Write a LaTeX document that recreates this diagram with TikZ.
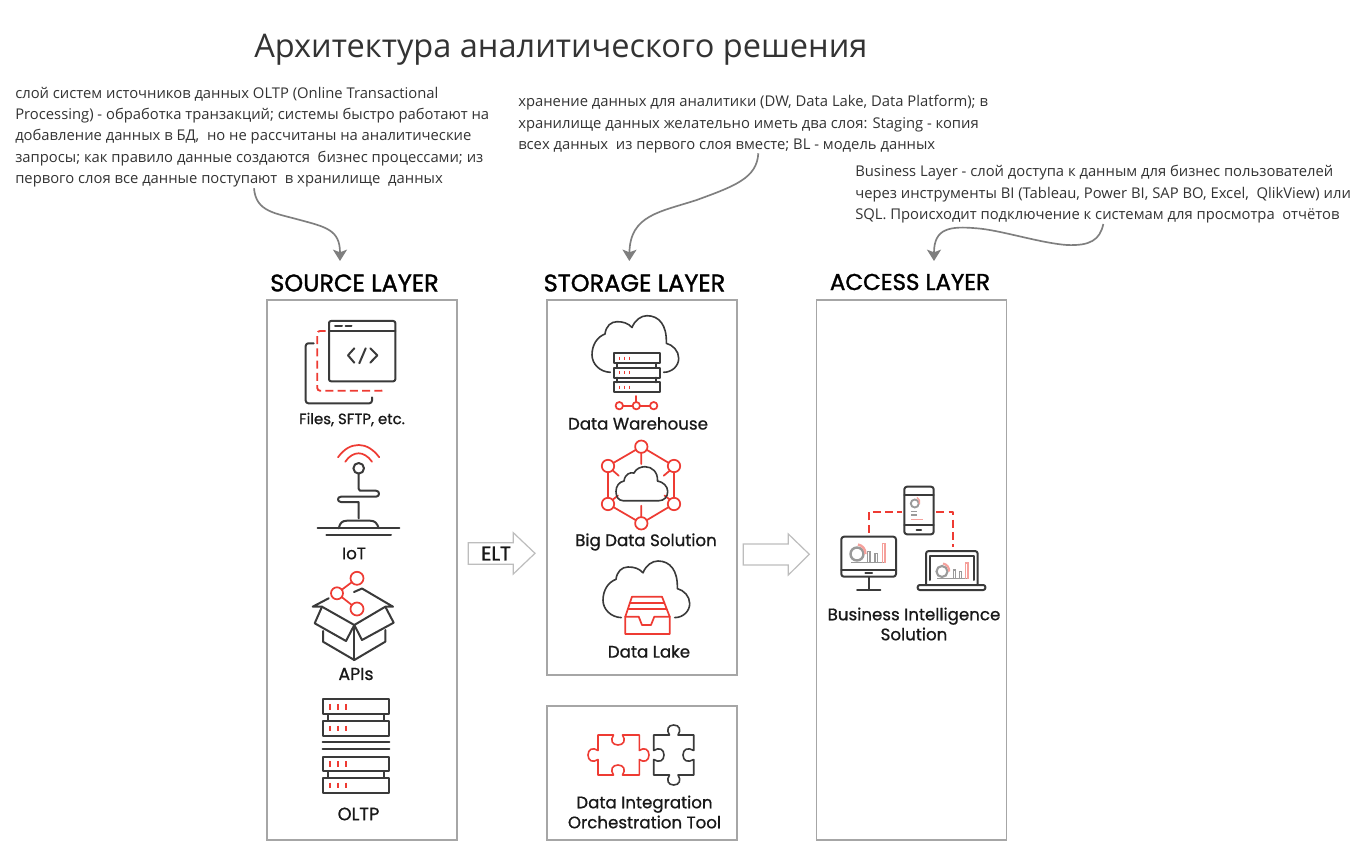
\documentclass[tikz,border=0pt]{standalone}
\usepackage{fontspec}
\setmainfont{Open Sans}
\newfontfamily\labf{Poppins}[FakeBold=0.8]
\newfontfamily\headf{Poppins}[FakeBold=1.4]
\usetikzlibrary{arrows.meta}
\definecolor{ink}{HTML}{3A3A3A}
\definecolor{redc}{HTML}{EE3B33}
\definecolor{boxc}{HTML}{A6A6A6}
\definecolor{arrc}{HTML}{7F7F7F}
\definecolor{blockc}{HTML}{BDBDBD}
\definecolor{txtc}{HTML}{333333}
\definecolor{pale}{HTML}{9A9A9A}
\definecolor{palered}{HTML}{F5A09B}
\tikzset{
  ic/.style={draw=ink,line width=1.5pt,line join=round,line cap=round},
  rd/.style={draw=redc,line width=1.3pt,line join=round,line cap=round},
  rdd/.style={rd,line width=1.4pt,line cap=butt,dash pattern=on 6pt off 3.2pt},
  tick/.style={draw=redc,line width=1.6pt,line cap=butt},
  layerbox/.style={draw=boxc,line width=0.9pt},
  note/.style={anchor=north west,inner sep=0pt,align=left,text=txtc,font=\fontsize{11.1}{16.1}\selectfont},
  hd/.style={inner sep=0pt,text=black,font=\headf\fontsize{18}{21}\selectfont},
  lb/.style={inner sep=0pt,text=black!90,align=center,font=\labf\fontsize{12.5}{15}\selectfont},
  curve/.style={draw=arrc,line width=1.25pt,-{Stealth[length=8.5pt,width=10.5pt,inset=2pt]}},
  block/.style={draw=blockc,line width=0.9pt,fill=white,line join=miter},
  pl/.style={draw=pale,line width=1pt},
  plr/.style={draw=palered,line width=1.1pt},
}
\newcommand{\srvrow}[5]{% x1 x2 y1 y2 tickx-list
  \draw[ic,fill=white] (#1,#3) rectangle (#2,#4);
  \foreach \tx in {#5}{\draw[tick] (\tx,#3+4.5) -- (\tx,#4-4.5);}
}
\newcommand{\cloudpath}{(610.3,372.3) .. controls (600,372) and (592,364) .. (592,355)
  .. controls (592,345) and (597,337) .. (605,334)
  .. controls (606,326) and (611,321.7) .. (617,321.7)
  .. controls (623,321.7) and (628,323) .. (632,327.5)
  .. controls (635,320) and (641,315.7) .. (647,315.7)
  .. controls (659,315.7) and (667,325) .. (666.3,343.3)
  .. controls (673,345) and (678.7,351) .. (678.7,358.3)
  .. controls (678.7,366) and (672,372.3) .. (663.7,372.3)}
\begin{document}
\begin{tikzpicture}[x=0.75pt,y=-0.75pt]
\useasboundingbox (0,0) rectangle (1364,852);
\fill[white] (0,0) rectangle (1364,852);

% title and notes
\node[anchor=west,inner sep=0pt,text=txtc,font=\fontsize{24.4}{30}\selectfont] (title) at (254,49.5) {Архитектура аналитического решения};
\node[note] (n1) at (15,86.5) {слой систем источников данных OLTP (Online Transactional\\Processing) - обработка транзакций; системы быстро работают на\\добавление данных в БД,\ \ но не рассчитаны на аналитические\\запросы; как правило данные создаются\ \ бизнес процессами; из\\первого слоя все данные поступают\ \ в хранилище\ \ данных};
\node[note] (n2) at (518,95) {хранение данных для аналитики (DW, Data Lake, Data Platform); в\\хранилище данных желательно иметь два слоя: Staging - копия\\всех данных\ \ из первого слоя вместе; BL - модель данных};
\node[note] (n3) at (855,165) {Business Layer - слой доступа к данным для бизнес пользователей\\через инструменты BI (Tableau, Power BI, SAP BO, Excel,\ \ QlikView) или\\SQL. Происходит подключение к системам для просмотра\ \ отчётов};

% boxes
\node[layerbox,minimum width=142.5pt,minimum height=405pt,inner sep=0pt] (src) at (362,570) {};
\node[layerbox,minimum width=142.5pt,minimum height=281.25pt,inner sep=0pt] (sto) at (642,487.5) {};
\node[layerbox,minimum width=142.5pt,minimum height=100.5pt,inner sep=0pt] (itg) at (642,773) {};
\node[layerbox,minimum width=142pt,minimum height=405pt,inner sep=0pt] (acc) at (911.5,570) {};

% headers
\node[hd] (h1) at (354.5,283) {SOURCE LAYER};
\node[hd] (h2) at (634.5,283) {STORAGE LAYER};
\node[hd,font=\headf\fontsize{17.2}{21}\selectfont] (h3) at (910,282) {ACCESS LAYER};

% curved arrows
\coordinate (a1s) at (254,188.3); \coordinate (a1e) at (340,261);
\coordinate (a2s) at (758.3,153.3); \coordinate (a2e) at (629.3,261);
\coordinate (a3s) at (1103.3,224); \coordinate (a3e) at (934,261);
\draw[curve] (a1s) .. controls (256,212) and (275,213) .. (300,220) .. controls (326,227) and (340,230) .. (a1e);
\draw[curve] (a2s) .. controls (757,178) and (735,186) .. (696.7,200) .. controls (660,212) and (630,215) .. (a2e);
\draw[curve] (a3s) .. controls (1100,240) and (1090,246) .. (1066.7,245) .. controls (1040,243) and (1000,230) .. (976.7,228.3) .. controls (950,226) and (934,228) .. (a3e);

% block arrows
\draw[block] (468.3,542.7) -- (513.3,542.7) -- (513.3,532.7) -- (535,553.3) -- (513.3,574) -- (513.3,564.3) -- (468.3,564.3) -- cycle;
\node[lb,font=\headf\fontsize{15}{18}\selectfont] (elt) at (496,553.5) {ELT};
\draw[block] (743.3,544) -- (788.3,544) -- (788.3,534) -- (809.3,554.3) -- (788.3,575) -- (788.3,565) -- (743.3,565) -- cycle;

% Files icon
\draw[ic,rounded corners=1.5pt] (329,321) rectangle (395.3,381.3);
\draw[ic] (329,331) -- (395.3,331);
\draw[ic] (335,325.7) -- (342,325.7) (345.5,325.7) -- (351.5,325.7);
\draw[ic] (354.3,348.3) -- (348,355.3) -- (354.3,362.7) (365.7,348.3) -- (359.3,363.3) (370.3,348.3) -- (377.3,355.3) -- (370.3,362.7);
\draw[rdd,rounded corners=2pt] (325.7,331) -- (317.3,331) -- (317.3,390.7) -- (384.3,390.7) -- (384.3,387.3);
\draw[ic,rounded corners=2pt] (313.7,343.3) -- (305.7,343.3) -- (305.7,403.3) -- (372,403.3) -- (372,397.3);
\node[lb,font=\labf\fontsize{11.2}{13}\selectfont] (lfiles) at (352,419.5) {Files, SFTP, etc.};

% IoT icon
\draw[rd] (338,457.3) .. controls (344,449) and (351,445) .. (358.7,445) .. controls (366,445) and (373,449) .. (379.3,457.3);
\draw[rd] (345.3,461.7) .. controls (349,456) and (354,453.3) .. (358.7,453.3) .. controls (363,453.3) and (368,456) .. (372,461.7);
\draw[ic] (358.7,468.3) circle (5.3);
\draw[ic] (358.7,473.7) -- (358.7,489) .. controls (358.7,490.4) and (359,490.7) .. (360,490.7) -- (376,490.7) .. controls (380,490.7) and (380,496.7) .. (376,496.7) -- (341,496.7) .. controls (337,496.7) and (337,502) .. (341,502) -- (358.7,502) -- (358.7,518.3);
\draw[ic] (338.7,528.3) .. controls (340,523) and (342,520.7) .. (347,520.7) -- (370,520.7) .. controls (375,520.7) and (377,523) .. (378.7,528.3);
\draw[ic] (317.7,528.3) -- (399.3,528.3) (326.3,535.3) -- (391,535.3);
\node[lb] (liot) at (354,553.5) {IoT};

% APIs icon
\draw[ic] (322,606.7) -- (314.7,623.3) -- (346,641) -- (354.3,625) -- (362,640) -- (393.7,622.7) -- (385.3,606.7);
\draw[ic] (322,606.7) -- (354.3,625) -- (385.3,606.7);
\draw[ic] (312.7,606.7) -- (328.7,598.3) (312.7,606.7) -- (322,606.7);
\draw[ic] (354,592) -- (362,588.5) -- (393,606.7) -- (385.3,606.7);
\draw[ic] (323,631) -- (323,641.7) -- (354.3,660) -- (385.3,641.7) -- (385.3,630);
\draw[ic] (354.3,625) -- (354.3,660);
\draw[rd] (357,578.3) circle (6.5) (337,593.3) circle (6) (357,609) circle (6.5);
\draw[rd] (351.8,582.2) -- (341.8,589.7) (341.8,597.1) -- (351.8,605);
\node[lb,font=\labf\fontsize{13}{15}\selectfont] (lapi) at (356,674) {APIs};

% OLTP icon
\draw[ic] (327.7,714) -- (327.7,721) (384.3,714) -- (384.3,721);
\draw[ic] (327.7,771) -- (327.7,778) (384.3,771) -- (384.3,778);
\srvrow{322.7}{389.3}{699.3}{714}{330.3,337.7,345.7}
\srvrow{322.7}{389.3}{721}{735.7}{330.3,337.7,345.7}
\draw[ic] (322.7,742.3) -- (389.3,742.3) (322.7,749.3) -- (389.3,749.3);
\srvrow{322.7}{389.3}{756.7}{771}{330.3,337.7,345.7}
\srvrow{322.7}{389.3}{778}{792.7}{330.3,337.7,345.7}
\node[lb,font=\labf\fontsize{13.4}{15}\selectfont] (loltp) at (358.5,814) {OLTP};

% Data Warehouse icon
\draw[ic,line width=1.2pt] \cloudpath;
\draw[ic] (617,363.3) -- (617,367.7) (656.3,363.3) -- (656.3,367.7) (617,377.7) -- (617,382.3) (656.3,377.7) -- (656.3,382.3);
\draw[ic] (613.7,353.3) rectangle (659.7,363.3) (613.7,367.7) rectangle (659.7,377.7) (613.7,382.3) rectangle (659.7,392.3);
\foreach \ty in {358.3,372.7,387.3}{\foreach \tx in {619.7,624.3,629.3}{\draw[tick,line width=1pt] (\tx,\ty-1.7) -- (\tx,\ty+1.7);}}
\draw[rd] (636.3,396) -- (636.3,402);
\draw[rd] (619.3,405.7) circle (3.7) (636.3,405.7) circle (3.7) (653.7,405.7) circle (3.7);
\draw[rd] (623,405.7) -- (632.6,405.7) (640,405.7) -- (650,405.7);
\node[lb] (ldw) at (638,423.5) {Data Warehouse};

% Big Data icon
\foreach \cx/\cy in {641.3/446.7,608/466,674/466,608/504,674/504,641.3/523.3}{\draw[rd] (\cx,\cy) circle (6.2);}
\draw[rd] (646.7,449.8) -- (668.7,462.9) (635.9,449.8) -- (613.4,462.9) (608,472.2) -- (608,497.8) (674,472.2) -- (674,497.8) (613.4,507.1) -- (635.9,520.2) (668.7,507.1) -- (646.7,520.2);
\draw[rd] (641.3,453) -- (641.3,464) (613,470.7) -- (618.7,475.7) (669.7,470.7) -- (663.7,475.7) (613,499.5) -- (618,495.5) (669.7,499.5) -- (664.5,495.5) (641.3,517) -- (641.3,505.7);
\draw[ic,line width=1.2pt] (623,500.7) .. controls (618,500.7) and (616,496) .. (616,491.5) .. controls (616,486) and (619,482) .. (624,481) .. controls (625,474) and (630,472) .. (634,473) .. controls (636,468.5) and (641,466.7) .. (645,466.7) .. controls (652,466.7) and (658,472) .. (657.5,481) .. controls (663,482) and (667.7,486) .. (667.7,491.5) .. controls (667.7,497) and (664,500.7) .. (659,500.7) -- cycle;
\node[lb] (lbd) at (646,542) {Big Data Solution};

% Data Lake icon
\begin{scope}[shift={(11,245.3)}]
\draw[ic,line width=1.2pt] \cloudpath;
\end{scope}
\draw[rd,fill=white] (632,596.7) -- (662,596.7) -- (669.7,616.7) -- (669.7,634) -- (625.3,634) -- (625.3,616.7) -- cycle;
\draw[rd] (629.7,602.7) -- (664.3,602.7) (628,609.3) -- (666.3,609.3);
\draw[rd] (625.3,616.7) -- (638.7,616.7) -- (642,625) -- (651,625) -- (654.3,616.7) -- (669.7,616.7);
\node[lb] (ldl) at (649,651.5) {Data Lake};

% Puzzle icon
\draw[rd,line width=1.2pt] (598,735) -- (613.5,735) .. controls (610,740) and (612,745) .. (618,745) .. controls (624,745) and (626,740) .. (622.5,735) -- (639.3,735) -- (639.3,750.5) .. controls (644,747) and (649,749) .. (649,755) .. controls (649,761) and (644,763) .. (639.3,759.5) -- (639.3,775) -- (622.5,775) .. controls (626,770) and (624,765) .. (618,765) .. controls (612,765) and (610,770) .. (613.5,775) -- (598,775) -- (598,759.5) .. controls (593,763) and (588,761) .. (588,755) .. controls (588,749) and (593,747) .. (598,750.5) -- cycle;
\draw[ic,line width=1.2pt] (653.7,735) -- (669.5,735) .. controls (666,730) and (668,725) .. (673.7,725) .. controls (679.5,725) and (681.5,730) .. (678,735) -- (693.7,735) -- (693.7,750.5) .. controls (688,747) and (683,749) .. (683,755) .. controls (683,761) and (688,763) .. (693.7,759.5) -- (693.7,775) -- (678,775) .. controls (681.5,780) and (679.5,785) .. (673.7,785) .. controls (668,785) and (666,780) .. (669.5,775) -- (653.7,775) -- (653.7,759.5) .. controls (659,763) and (664,761) .. (664,755) .. controls (664,749) and (659,747) .. (653.7,750.5) -- cycle;
\node[lb] (ldi) at (644.5,812) {Data Integration\\Orchestration Tool};

% BI icon
\draw[rdd] (869.3,532.7) -- (869.3,511.7) -- (902,511.7);
\draw[rdd] (936.3,511.7) -- (953,511.7) -- (953,547.3);
\draw[ic,rounded corners=2pt] (904.3,486.7) rectangle (933.7,534.3);
\draw[ic] (904.3,495) -- (933.7,495) (904.3,525) -- (933.7,525) (916.5,530.3) -- (921,530.3);
\draw[pl,line width=1.4pt] (914.8,503.5) circle (4);
\draw[plr] (917,497.5) arc (-60:20:5.5);
\draw[pl] (911.3,511.5) -- (917,511.5) (911.3,515) -- (917,515);
\draw[plr] (911.3,519.3) -- (922.7,519.3);
% monitor
\draw[ic,rounded corners=2pt] (841.3,536.7) rectangle (896,576.7);
\draw[ic] (841.3,570) -- (896,570) (865.3,573) -- (872,573) (868.7,577.3) -- (868.7,590) (857,590) -- (880.3,590);
\draw[pl,line width=1.8pt] (857,554) circle (6.5);
\draw[plr,line width=1.8pt] (858,544.5) arc (-80:5:9);
\draw[pl] (851,562.7) -- (886,562.7) (867.7,562.7) -- (867.7,551.7) -- (870,551.7) -- (870,562.7) (875,562.7) -- (875,553.5) -- (877.5,553.5) -- (877.5,562.7);
\draw[plr] (882.3,562.7) -- (882.3,543.3) -- (885,543.3) -- (885,562.7);
% laptop
\draw[ic,rounded corners=2pt] (926,585) -- (926,551) -- (977.7,551) -- (977.7,585);
\draw[ic] (930.3,580) -- (930.3,555.7) -- (973.7,555.7) -- (973.7,580);
\draw[ic,rounded corners=1.5pt] (917.7,585) rectangle (985.3,590);
\draw[pl,line width=1.6pt] (942,571.5) circle (5.5);
\draw[plr,line width=1.6pt] (943,563.5) arc (-80:5:7.5);
\draw[pl] (937,578.5) -- (968,578.5) (953.5,578.5) -- (953.5,570) -- (955.5,570) -- (955.5,578.5) (959.5,578.5) -- (959.5,571.5) -- (961.5,571.5) -- (961.5,578.5);
\draw[plr] (965.5,578.5) -- (965.5,563) -- (968,563) -- (968,578.5);
\node[lb] (lbi) at (914,624) {Business Intelligence\\Solution};
\end{tikzpicture}
\end{document}
